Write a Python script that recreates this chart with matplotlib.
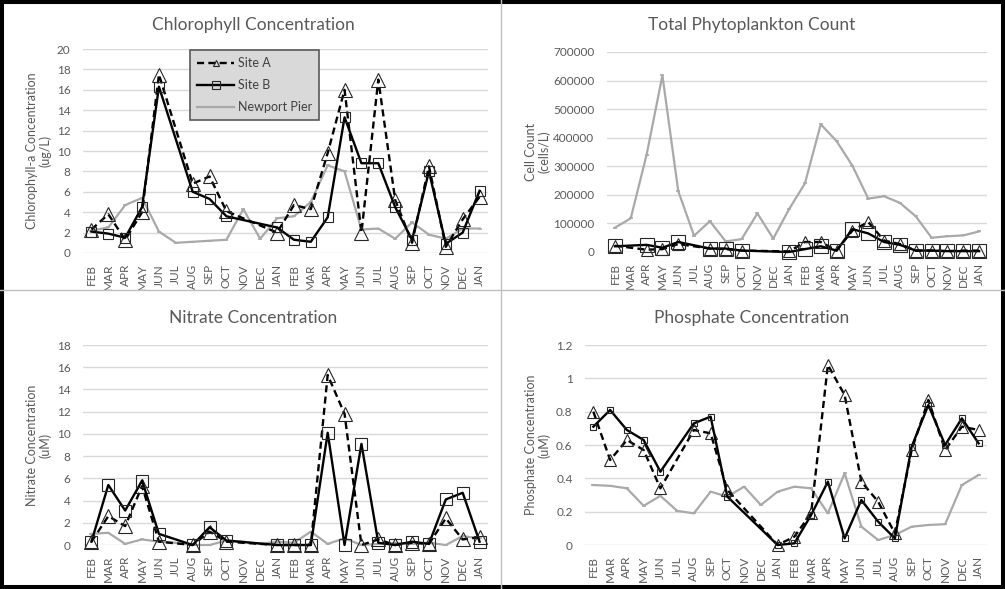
import numpy as np
import matplotlib
matplotlib.use("Agg")
import matplotlib.pyplot as plt
from matplotlib.lines import Line2D
from matplotlib.patches import Rectangle

plt.rcParams['font.family'] = ['Lato', 'DejaVu Sans']

nan = np.nan

# months, two years of sampling
months = ["FEB", "MAR", "APR", "MAY", "JUN", "JUL", "AUG", "SEP", "OCT", "NOV", "DEC", "JAN",
          "FEB", "MAR", "APR", "MAY", "JUN", "JUL", "AUG", "SEP", "OCT", "NOV", "DEC", "JAN"]

# chlorophyll-a (ug/L)
chl_a = [2.3, 3.8, 1.3, 4.0, 17.5, nan, 6.8, 7.5, 4.1, nan, nan, 2.0,
         4.7, 4.3, 9.8, 16.0, 2.0, 17.0, 5.2, 1.0, 8.5, 0.6, 3.3, 5.5]
chl_b = [2.1, 1.9, 1.5, 4.5, 16.3, nan, 6.0, 5.3, 3.6, nan, nan, 2.5,
         1.3, 1.1, 3.5, 13.3, 8.8, 8.8, 4.5, 1.3, 8.0, 0.9, 2.0, 6.1]
chl_pier = [2.2, 2.5, 4.7, 5.4, 2.1, 1.0, 1.1, 1.2, 1.3, 4.3, 1.4, 3.4,
            3.6, 5.0, 8.6, 8.0, 2.3, 2.4, 1.4, 3.0, 1.8, 1.4, 2.4, 2.4]

# total phytoplankton (cells/L)
phy_a = [22000, nan, 8000, 10000, 28000, nan, 12000, 10000, 5000, nan, nan, 2000,
         35000, 35000, 5000, 75000, 105000, 40000, 28000, 5000, 5000, 3000, 5000, 5000]
phy_b = [20000, nan, 25000, 15000, 35000, nan, 12000, 12000, 5000, nan, nan, 0,
         10000, 20000, 5000, 80000, 65000, 35000, 25000, 5000, 5000, 3000, 3000, 3000]
phy_pier = [85000, 118000, 340000, 618000, 213000, 57000, 108000, 37000, 45000, 135000, 47000, 150000,
            240000, 447000, 388000, 302000, 187000, 195000, 172000, 125000, 50000, 55000, 58000, 72000]

# nitrate (uM)
no3_a = [0.3, 2.6, 1.7, 5.3, 0.3, nan, 0.0, 1.2, 0.3, nan, nan, 0.0,
         0.0, 0.0, 15.3, 11.8, 0.0, 0.5, 0.0, 0.2, 0.1, 2.4, 0.5, 0.7]
no3_b = [0.3, 5.4, 3.1, 5.8, 1.0, nan, 0.0, 1.6, 0.4, nan, nan, 0.0,
         0.0, 0.0, 10.1, 0.0, 9.1, 0.2, 0.0, 0.3, 0.1, 4.1, 4.7, 0.3]
no3_pier = [1.0, 1.1, 0.1, 0.5, 0.3, 0.2, 0.0, 0.0, 0.4, 0.3, 0.1, 0.3,
            0.2, 1.2, 0.1, 0.6, 0.0, 0.1, 0.2, 0.1, 0.2, 0.0, 0.8, 0.6]

# phosphate (uM)
po4_a = [0.80, 0.51, 0.63, 0.57, 0.34, nan, 0.69, 0.67, 0.33, nan, nan, 0.0,
         0.05, 0.19, 1.08, 0.90, 0.38, 0.26, 0.07, 0.57, 0.87, 0.57, 0.71, 0.69]
po4_b = [0.71, 0.81, 0.69, 0.63, 0.44, nan, 0.73, 0.77, 0.29, nan, nan, 0.0,
         0.01, 0.18, 0.38, 0.04, 0.27, 0.14, 0.04, 0.59, 0.84, 0.60, 0.76, 0.61]
po4_pier = [0.36, 0.355, 0.34, 0.235, 0.295, 0.205, 0.19, 0.32, 0.29, 0.35, 0.24, 0.32,
            0.35, 0.34, 0.19, 0.43, 0.11, 0.03, 0.06, 0.11, 0.12, 0.125, 0.36, 0.42]

chl_ticks = [0, 2, 4, 6, 8, 10, 12, 14, 16, 18, 20]
phy_ticks = [0, 100000, 200000, 300000, 400000, 500000, 600000, 700000]
no3_ticks = [0, 2, 4, 6, 8, 10, 12, 14, 16, 18]
po4_ticks = [0, 0.2, 0.4, 0.6, 0.8, 1, 1.2]

W, H = 1005, 589
fig = plt.figure(figsize=(W / 100, H / 100), dpi=100)
fig.patch.set_facecolor('white')

txt = '#595959'
grid = '#d9d9d9'
pier_col = '#a9a9a9'
edge = '#262626'


def px_axes(x0, y0, x1, y1):
    return fig.add_axes([x0 / W, 1 - y1 / H, (x1 - x0) / W, (y1 - y0) / H])


def draw(ax, a, b, pier, ticks, tri_ms, sq_ms):
    x = np.arange(len(months))
    a = np.array(a, dtype=float)
    b = np.array(b, dtype=float)
    pier = np.array(pier, dtype=float)
    ax.plot(x, pier, color=pier_col, lw=1.6, marker='_', ms=3, mew=1.2, zorder=2, clip_on=False)
    m = ~np.isnan(a)
    ax.plot(x[m], a[m], color='black', lw=1.7, ls=(0, (3, 1.8)), marker='^', ms=tri_ms,
            mfc='none', mec=edge, mew=0.8, zorder=3, clip_on=False)
    m = ~np.isnan(b)
    ax.plot(x[m], b[m], color='black', lw=1.7, marker='s', ms=sq_ms,
            mfc='none', mec=edge, mew=0.8, zorder=4, clip_on=False)
    ax.set_xlim(-0.5, len(months) - 0.5)
    ax.set_ylim(ticks[0], ticks[-1])
    ax.set_xticks(x)
    ax.set_xticklabels(months, rotation=90, fontsize=8.5, color=txt)
    ax.set_yticks(ticks)
    ax.set_yticklabels([f'{t:g}' for t in ticks], fontsize=8.5, color=txt)
    ax.tick_params(length=0, pad=8)
    ax.tick_params(axis='y', pad=9)
    ax.grid(axis='y', color=grid, lw=1)
    ax.set_axisbelow(True)
    for s in ax.spines.values():
        s.set_visible(False)


ax1 = px_axes(83, 49, 488, 253)
draw(ax1, chl_a, chl_b, chl_pier, chl_ticks, 10, 6.5)
ax2 = px_axes(607, 52, 987, 252)
draw(ax2, phy_a, phy_b, phy_pier, phy_ticks, 8.5, 10)
ax3 = px_axes(83, 345, 488, 545)
draw(ax3, no3_a, no3_b, no3_pier, no3_ticks, 9.5, 8.5)
ax4 = px_axes(585, 345, 987, 545)
draw(ax4, po4_a, po4_b, po4_pier, po4_ticks, 8, 4.5)


# titles and axis titles
def ftext(x, y, s, **kw):
    fig.text(x / W, 1 - y / H, s, ha='center', va='center', color=txt, **kw)


ftext(253, 25, "Chlorophyll Concentration", fontsize=12.5)
ftext(752, 25, "Total Phytoplankton Count", fontsize=12.5)
ftext(253, 318, "Nitrate Concentration", fontsize=12.5)
ftext(752, 318, "Phosphate Concentration", fontsize=12.5)
ftext(39, 151, "Chlorophyll-a Concentration\n(ug/L)", fontsize=9, rotation=90,
      multialignment='center', linespacing=1.1)
ftext(538, 152, "Cell Count\n(cells/L)", fontsize=9, rotation=90,
      multialignment='center', linespacing=1.1)
ftext(39, 445, "Nitrate Concentration\n(uM)", fontsize=9, rotation=90,
      multialignment='center', linespacing=1.1)
ftext(538, 445, "Phosphate Concentration\n(uM)", fontsize=9, rotation=90,
      multialignment='center', linespacing=1.1)

# legend (only on the chlorophyll panel)
handles = [
    Line2D([], [], color='black', lw=1.7, ls=(0, (3, 1.8)), marker='^', ms=5, mfc='none', mec=edge, mew=0.8),
    Line2D([], [], color='black', lw=1.7, marker='s', ms=5.5, mfc='none', mec=edge, mew=0.8),
    Line2D([], [], color=pier_col, lw=1.6, marker='_', ms=3, mew=1.2),
]
leg = ax1.legend(handles, ["Site A", "Site B", "Newport Pier"], loc='upper left',
                 bbox_to_anchor=(190 / W, 1 - 50 / H), bbox_transform=fig.transFigure,
                 borderaxespad=0, fontsize=9, handlelength=3.0, handletextpad=0.3,
                 labelspacing=0.8, borderpad=0.55, fancybox=False, framealpha=1)
leg.get_frame().set_facecolor('#d9d9d9')
leg.get_frame().set_edgecolor('#595959')
leg.get_frame().set_linewidth(1.2)
for t in leg.get_texts():
    t.set_color('#404040')

# panel dividers and outer frame
fig.add_artist(Line2D([0, 1], [1 - 290 / H, 1 - 290 / H], transform=fig.transFigure,
                      color='#bfbfbf', lw=1))
fig.add_artist(Line2D([501 / W, 501 / W], [0, 1], transform=fig.transFigure,
                      color='#bfbfbf', lw=1))
fig.add_artist(Rectangle((0, 0), 1, 1, transform=fig.transFigure, fill=False,
                         edgecolor='black', lw=5.8))

fig.savefig('out.png', dpi=100)
